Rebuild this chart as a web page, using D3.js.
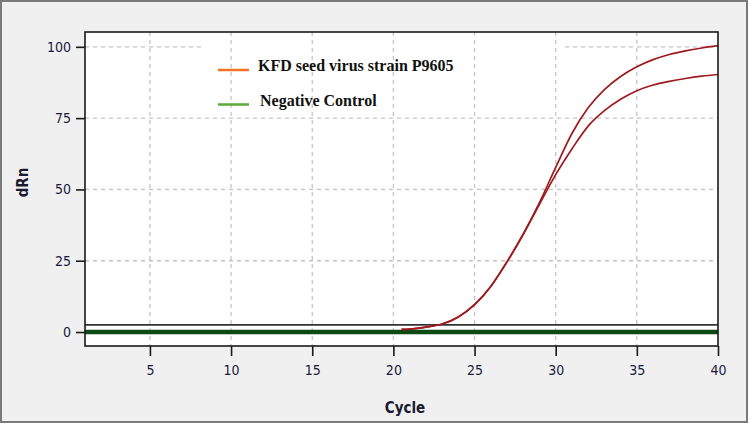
<!DOCTYPE html>
<html><head><meta charset="utf-8">
<script src="https://cdn.jsdelivr.net/npm/d3@7"></script>
<style>body{margin:0;background:#fff}svg{display:block}</style>
</head><body>
<svg id="c" width="750" height="425"></svg>
<script>
const cycles = [20.5,21,22,23,24,25,26,27,28,29,30,31,32,33,34,35,36,37,38,39,40];
const seriesA = [0.9,1.0,1.7,2.8,5.3,9.6,16.0,24.6,34.4,45.4,57.7,69.6,78.6,85.0,89.6,93.0,95.5,97.3,98.6,99.6,100.4];
const seriesB = [0.9,1.0,1.7,2.8,5.3,9.6,16.0,24.6,34.2,44.8,55.2,64.2,72.2,77.6,81.6,84.6,86.6,87.9,88.9,89.7,90.3];
const negCycles = [1,5,10,15,20,25,30,35,40];
const negValues = [0,0,0,0,0,0,0,0,0];
const threshold = 2.5;
const xTicks = [5,10,15,20,25,30,35,40];
const yTicks = [0,25,50,75,100];
const legendLabels = ["KFD seed virus strain P9605","Negative Control"];
const legendColors = ["#f07028","#5aaa3a"];

const svg = d3.select("#c");
const m = {l:85, t:32, r:718, b:346};
svg.append("rect").attr("x",1).attr("y",1).attr("width",746).attr("height",421)
  .attr("fill","#f0f0f0").attr("stroke","#7a7a7a").attr("stroke-width",2);

const x = d3.scaleLinear().domain([1,40]).range([m.l,m.r]);
const y = d3.scaleLinear().domain([-4.9,105.2]).range([m.b,m.t]);

svg.append("rect").attr("x",m.l).attr("y",m.t).attr("width",m.r-m.l).attr("height",m.b-m.t).attr("fill","#fff");

const tickFont = "'DejaVu Sans Condensed','DejaVu Sans',sans-serif";
svg.append("g").selectAll("line").data(yTicks.filter(d=>d>0)).join("line")
  .attr("x1",m.l).attr("x2",m.r).attr("y1",d=>y(d)).attr("y2",d=>y(d))
  .attr("stroke","#c4c4c4").attr("stroke-width",1.3).attr("stroke-dasharray","4,4");
svg.append("rect").attr("x",205).attr("y",40).attr("width",360).attr("height",72).attr("fill","#fff");
svg.append("g").selectAll("line").data(xTicks.filter(d=>d<40)).join("line")
  .attr("x1",d=>x(d)).attr("x2",d=>x(d)).attr("y1",m.t).attr("y2",m.b)
  .attr("stroke","#c4c4c4").attr("stroke-width",1.3).attr("stroke-dasharray","4,4");

svg.append("line").attr("x1",m.l).attr("x2",m.r).attr("y1",y(threshold)).attr("y2",y(threshold))
  .attr("stroke","#333").attr("stroke-width",1.6);

const line = d3.line().x(d=>x(d[0])).y(d=>y(d[1])).curve(d3.curveMonotoneX);
svg.append("path").datum(negCycles.map((c,i)=>[c,negValues[i]])).attr("d",line)
  .attr("fill","none").attr("stroke","#0b4a12").attr("stroke-width",4.5);

[seriesA, seriesB].forEach(s=>{
  svg.append("path").datum(cycles.map((c,i)=>[c,s[i]])).attr("d",line)
    .attr("fill","none").attr("stroke","#9e1b1f").attr("stroke-width",1.7);
});

svg.append("rect").attr("x",m.l).attr("y",m.t).attr("width",m.r-m.l).attr("height",m.b-m.t)
  .attr("fill","none").attr("stroke","#1a1a1a").attr("stroke-width",1.6);

const yAxis = d3.axisLeft(y).tickValues(yTicks).tickSize(9).tickPadding(5);
const gy = svg.append("g").attr("transform",`translate(${m.l},0)`).call(yAxis);
gy.select(".domain").remove();
gy.selectAll("line").attr("stroke","#1a1a1a").attr("stroke-width",1.6);
gy.selectAll("text").attr("font-family",tickFont).attr("font-size",14).attr("fill","#1a1a40");

const xAxis = d3.axisBottom(x).tickValues(xTicks).tickSize(10).tickPadding(9);
const gx = svg.append("g").attr("transform",`translate(0,${m.b})`).call(xAxis);
gx.select(".domain").remove();
gx.selectAll("line").attr("stroke","#1a1a1a").attr("stroke-width",1.6);
gx.selectAll("text").attr("font-family",tickFont).attr("font-size",14).attr("fill","#1a1a40");

svg.append("text").attr("x",405).attr("y",413).attr("text-anchor","middle")
  .attr("font-family",tickFont).attr("font-weight","bold").attr("font-size",15).attr("fill","#1a1a30").text("Cycle");
svg.append("text").attr("transform","translate(28,182.5) rotate(-90)").attr("text-anchor","middle")
  .attr("font-family",tickFont).attr("font-weight","bold").attr("font-size",15).attr("fill","#1a1a30").text("dRn");

const lg = svg.append("g");
legendLabels.forEach((t,i)=>{
  const yy = 70 + i*34.5;
  lg.append("line").attr("x1",218).attr("x2",249).attr("y1",yy).attr("y2",yy)
    .attr("stroke",legendColors[i]).attr("stroke-width",2.5);
  lg.append("text").attr("x",i===0?258:260).attr("y",yy+1).attr("font-family","'Liberation Serif','Times New Roman',serif")
    .attr("font-weight","bold").attr("font-size",16).attr("fill","#111").text(t);
});
</script>
</body></html>
